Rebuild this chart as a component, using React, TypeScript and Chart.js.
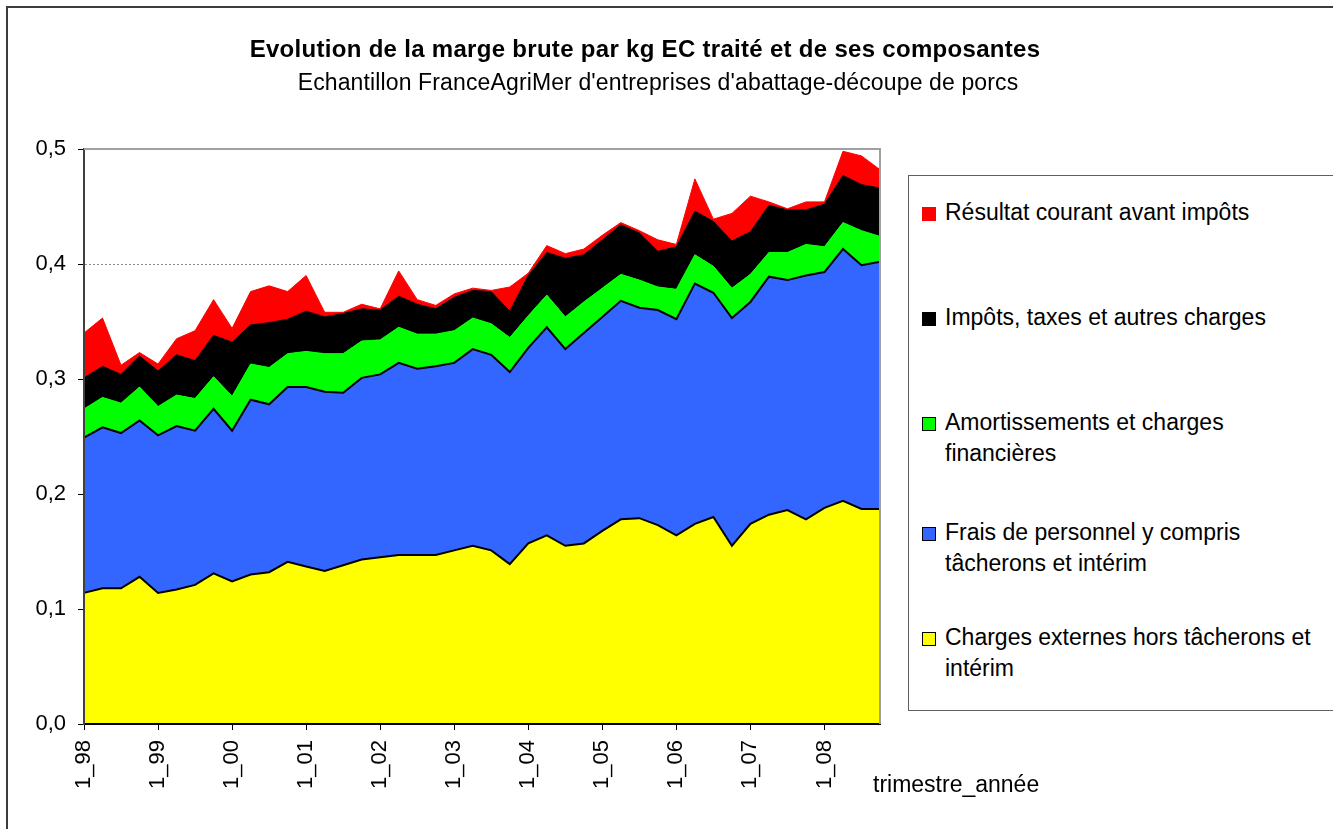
import React, { useEffect, useRef } from "react";
import { Chart, registerables } from "chart.js";

Chart.register(...registerables);

const categories = [
  "1_98", "2_98", "3_98", "4_98", "1_99", "2_99", "3_99", "4_99",
  "1_00", "2_00", "3_00", "4_00", "1_01", "2_01", "3_01", "4_01",
  "1_02", "2_02", "3_02", "4_02", "1_03", "2_03", "3_03", "4_03",
  "1_04", "2_04", "3_04", "4_04", "1_05", "2_05", "3_05", "4_05",
  "1_06", "2_06", "3_06", "4_06", "1_07", "2_07", "3_07", "4_07",
  "1_08", "2_08", "3_08", "4_08",
];

const chargesExternes = [
  0.114, 0.118, 0.118, 0.128, 0.114, 0.117, 0.121, 0.131, 0.124, 0.13, 0.132,
  0.141, 0.137, 0.133, 0.138, 0.143, 0.145, 0.147, 0.147, 0.147, 0.151, 0.155,
  0.151, 0.139, 0.157, 0.164, 0.155, 0.157, 0.168, 0.178, 0.179, 0.173, 0.164,
  0.174, 0.18, 0.155, 0.174, 0.182, 0.186, 0.178, 0.188, 0.194, 0.187, 0.187,
];

const fraisPersonnel = [
  0.135, 0.14, 0.135, 0.136, 0.137, 0.142, 0.134, 0.143, 0.131, 0.152, 0.146,
  0.152, 0.156, 0.156, 0.15, 0.158, 0.159, 0.167, 0.162, 0.164, 0.163, 0.171,
  0.17, 0.167, 0.17, 0.181, 0.171, 0.183, 0.186, 0.19, 0.183, 0.187, 0.188,
  0.209, 0.195, 0.198, 0.193, 0.207, 0.2, 0.212, 0.205, 0.219, 0.212, 0.215,
];

const amortissements = [
  0.025, 0.026, 0.026, 0.029, 0.025, 0.027, 0.028, 0.028, 0.03, 0.031, 0.032,
  0.029, 0.031, 0.033, 0.034, 0.032, 0.03, 0.031, 0.03, 0.028, 0.028, 0.027,
  0.027, 0.03, 0.028, 0.028, 0.028, 0.027, 0.025, 0.023, 0.024, 0.02, 0.026,
  0.025, 0.023, 0.026, 0.024, 0.021, 0.024, 0.027, 0.022, 0.023, 0.03, 0.022,
];

const impotsTaxes = [
  0.027, 0.027, 0.025, 0.027, 0.031, 0.035, 0.033, 0.036, 0.047, 0.034, 0.039,
  0.03, 0.035, 0.032, 0.035, 0.028, 0.026, 0.027, 0.026, 0.022, 0.029, 0.024,
  0.028, 0.023, 0.035, 0.037, 0.051, 0.041, 0.042, 0.043, 0.041, 0.031, 0.037,
  0.038, 0.039, 0.041, 0.037, 0.041, 0.037, 0.03, 0.037, 0.041, 0.04, 0.042,
];

const resultatCourant = [
  0.039, 0.042, 0.008, 0.003, 0.006, 0.014, 0.026, 0.031, 0.012, 0.029, 0.032,
  0.024, 0.031, 0.004, 0.001, 0.004, 0.001, 0.022, 0.004, 0.003, 0.003, 0.002,
  0.001, 0.021, 0.002, 0.006, 0.004, 0.005, 0.004, 0.002, 0.002, 0.01, 0.002,
  0.028, 0.002, 0.024, 0.031, 0.003, 0.001, 0.007, 0.002, 0.021, 0.025, 0.016,
];

const seriesLabels = [
  "Charges externes hors tâcherons et intérim",
  "Frais de personnel y compris tâcherons et intérim",
  "Amortissements et charges financières",
  "Impôts, taxes et autres charges",
  "Résultat courant avant impôts",
];

const legendLines = [
  ["Charges externes hors tâcherons et", "intérim"],
  ["Frais de personnel y compris", "tâcherons et intérim"],
  ["Amortissements et charges", "financières"],
  ["Impôts, taxes et autres charges"],
  ["Résultat courant avant impôts"],
];

const fillColors = ["#FFFF00", "#3366FF", "#00FF00", "#000000", "#FF0000"];
const lineColors = ["#000000", "#000000", "#00FF00", "#000000", "#FF0000"];
const lineWidths = [2, 2, 1, 1, 1];

const titleText = "Evolution de la marge brute par kg EC traité et de ses composantes";
const subtitleText = "Echantillon FranceAgriMer d'entreprises d'abattage-découpe de porcs";
const xAxisTitle = "trimestre_année";

const FONT = "'Liberation Sans', Arial, Helvetica, sans-serif";

export default function App() {
  const canvasRef = useRef<HTMLCanvasElement | null>(null);

  useEffect(() => {
    if (!canvasRef.current) return;
    const seriesValues = [
      chargesExternes,
      fraisPersonnel,
      amortissements,
      impotsTaxes,
      resultatCourant,
    ];

    const plotBorder = {
      id: "plotBorder",
      afterDraw(chart: any) {
        const { ctx, chartArea } = chart;
        const { left, top, right, bottom } = chartArea;
        ctx.save();
        ctx.strokeStyle = "#a0a0a0";
        ctx.lineWidth = 2;
        ctx.beginPath();
        ctx.moveTo(left, top);
        ctx.lineTo(right, top);
        ctx.lineTo(right, bottom);
        ctx.stroke();
        ctx.restore();
      },
    };

    const chart = new Chart(canvasRef.current, {
      type: "line",
      data: {
        labels: categories,
        datasets: seriesValues.map((vals, i) => ({
          label: seriesLabels[i],
          data: vals,
          backgroundColor: fillColors[i],
          borderColor: lineColors[i],
          borderWidth: lineWidths[i],
          fill: i === 0 ? "origin" : "-1",
          pointRadius: 0,
          pointHoverRadius: 0,
          tension: 0,
        })),
      },
      options: {
        animation: false,
        responsive: false,
        events: [],
        layout: { padding: { top: 149, right: 453, bottom: 0, left: 0 } },
        plugins: {
          legend: { display: false },
          title: { display: false },
          tooltip: { enabled: false },
        },
        scales: {
          x: {
            type: "category",
            offset: false,
            afterFit: (scale: any) => {
              scale.height = 105;
            },
            grid: {
              drawOnChartArea: false,
              drawTicks: true,
              tickLength: 6,
              tickWidth: 1,
              tickColor: (ctx: any) => (ctx.index % 4 === 0 ? "#000000" : "rgba(0,0,0,0)"),
            },
            border: { display: true, color: "#000000", width: 2, z: 1 },
            ticks: {
              autoSkip: false,
              maxRotation: 90,
              minRotation: 90,
              padding: 10,
              color: "#000000",
              font: { family: FONT, size: 22 },
              callback: (_v: any, index: number) => (index % 4 === 0 ? categories[index] : ""),
            },
          },
          y: {
            stacked: true,
            min: 0,
            max: 0.5,
            afterFit: (scale: any) => {
              scale.width = 84;
            },
            grid: {
              color: "#8c8c8c",
              lineWidth: 1,
              drawTicks: true,
              tickLength: 6,
              tickColor: "#000000",
              tickWidth: 1,
              tickBorderDash: [],
            },
            border: { display: true, color: "#404040", width: 2, dash: [2, 2], z: 1 },
            ticks: {
              stepSize: 0.1,
              padding: 12,
              color: "#000000",
              font: { family: FONT, size: 22 },
              callback: (v: any) => Number(v).toFixed(1).replace(".", ","),
            },
          },
        },
      },
      plugins: [plotBorder],
    } as any);

    return () => {
      chart.destroy();
    };
  }, []);

  const legendCenters = [637, 532, 422, 317, 212];

  return (
    <div
      style={{
        position: "fixed",
        left: 0,
        top: 0,
        width: 1333,
        height: 829,
        overflow: "hidden",
        background: "#ffffff",
        fontFamily: FONT,
        color: "#000000",
      }}
    >
      <div
        style={{
          position: "absolute",
          left: 6,
          top: 6,
          width: 1400,
          height: 900,
          border: "2px solid #3c3c3c",
        }}
      />
      <canvas
        ref={canvasRef}
        width={1333}
        height={829}
        style={{ position: "absolute", left: 0, top: 0, width: 1333, height: 829 }}
      />
      <div
        style={{
          position: "absolute",
          left: 0,
          width: 1290,
          top: 37,
          textAlign: "center",
          fontWeight: "bold",
          fontSize: 24,
          lineHeight: "24px",
          letterSpacing: "0.3px",
          whiteSpace: "nowrap",
        }}
      >
        {titleText}
      </div>
      <div
        style={{
          position: "absolute",
          left: 0,
          width: 1316,
          top: 71,
          textAlign: "center",
          fontSize: 23,
          lineHeight: "23px",
          letterSpacing: "0.13px",
          whiteSpace: "nowrap",
        }}
      >
        {subtitleText}
      </div>
      <div
        style={{
          position: "absolute",
          left: 908,
          top: 175,
          width: 600,
          height: 534,
          border: "1px solid #606060",
          background: "#ffffff",
        }}
      />
      {legendLines.map((lines, i) => (
        <React.Fragment key={i}>
          <div
            style={{
              position: "absolute",
              left: 922,
              top: legendCenters[i] - 5,
              width: 12,
              height: 12,
              background: fillColors[i],
              border: `1px solid ${lineColors[i] === "#00FF00" ? "#000000" : lineColors[i]}`,
            }}
          />
          <div
            style={{
              position: "absolute",
              left: 945,
              top: legendCenters[i] - 15.5,
              fontSize: 23,
              lineHeight: "31px",
              whiteSpace: "nowrap",
            }}
          >
            {lines.map((l, j) => (
              <div key={j}>{l}</div>
            ))}
          </div>
        </React.Fragment>
      ))}
      <div
        style={{
          position: "absolute",
          left: 873,
          top: 773,
          fontSize: 23,
          lineHeight: "23px",
          whiteSpace: "nowrap",
        }}
      >
        {xAxisTitle}
      </div>
    </div>
  );
}
